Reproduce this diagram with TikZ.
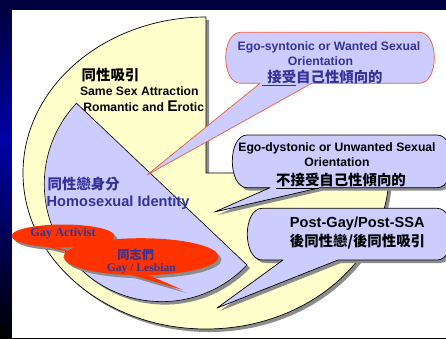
\documentclass[tikz,border=0pt]{standalone}
\usepackage{fontspec}
\setmainfont{Liberation Sans}
\newfontfamily\cjk{Noto Sans CJK TC}
\newfontfamily\tms{Liberation Serif}
\definecolor{lav}{HTML}{CCCCFF}
\definecolor{pieyel}{HTML}{FFFFCC}
\definecolor{dblue}{HTML}{333399}
\definecolor{redo}{HTML}{FF3300}
\definecolor{rline}{HTML}{F05A3C}
\definecolor{shad}{HTML}{8C8C8C}
\definecolor{bgA}{HTML}{00003C}
\definecolor{bgB}{HTML}{0000A8}
\newcommand\bubblepath[9]{(#1+#5,#2) -- (#3-#5,#2) .. controls (#3+#5/3,#2) and (#3+#5/3,#4) .. (#3-#5,#4) -- (#7,#4) -- (#8,#9) -- (#6,#4) -- (#1+#5,#4) .. controls (#1-#5/3,#4) and (#1-#5/3,#2) .. (#1+#5,#2) -- cycle}
\tikzset{
  en/.style={font=\fontsize{12.2}{14}\selectfont\bfseries},
  enbig/.style={font=\fontsize{14.6}{16}\selectfont\bfseries},
  cj/.style={font=\cjk\fontsize{14.4}{16}\selectfont\bfseries},
  cjs/.style={font=\cjk\fontsize{12.2}{14}\selectfont\bfseries},
  tm/.style={font=\tms\fontsize{12.3}{14}\selectfont\bfseries},
  tms/.style={font=\tms\fontsize{11.6}{13}\selectfont\bfseries},
  shadowfill/.style={fill=shad},
  bubble/.style={fill=lav, draw=black, line width=0.7pt, line join=round},
}
\begin{document}
\begin{tikzpicture}[x=1pt,y=-1pt,every node/.style={inner sep=0pt,outer sep=0pt}]
\clip (0,0) rectangle (446,338);
% background
\shade[top color=bgA, bottom color=bgB] (0,0) rectangle (446,140);
\shade[top color=bgB, bottom color=black] (0,140) rectangle (446,338);
\fill[white] (12,10) rectangle (446,338);
% pie
\begin{scope}[shift={(3,3)}]
\fill[shadowfill] (206,173) -- (389,173) arc[start angle=0,end angle=270,x radius=183,y radius=156] -- cycle;
\end{scope}
\filldraw[fill=pieyel, draw=black, line width=0.7pt] (206,173) -- (389,173) arc[start angle=0,end angle=270,x radius=183,y radius=156] -- cycle;
% lavender half disc
\begin{scope}[shift={(3,3)}]
\fill[shadowfill] (247,265) arc[start angle=43.5,end angle=223.5,radius=117.5] -- cycle;
\end{scope}
\filldraw[fill=lav, draw=black, line width=0.6pt] (247,265) arc[start angle=43.5,end angle=223.5,radius=117.5] -- cycle;
% pie texts
\node[cj, anchor=base west] (ssa1) at (81.7,80) {同性吸引};
\node[en, anchor=base west] (ssa2) at (80,95) {Same Sex Attraction};
\node[en, anchor=base west] (ssa3) at (83.3,111.7) {Romantic and {\fontsize{15.5}{16}\selectfont E}rotic};
\node[cj, text=dblue, anchor=base west] (hi1) at (47.7,189) {同性戀身分};
\node[enbig, text=dblue, anchor=base west] (hi2) at (46.7,206) {Homosexual Identity};
% ego-syntonic callout
\path[bubble, draw=rline] \bubblepath{225.7}{32.3}{434.3}{83.3}{15}{260}{311.7}{147}{175};
\node[en, text=dblue, anchor=base] (es1) at (329,50) {Ego-syntonic or Wanted Sexual};
\node[en, text=dblue, anchor=base] (es2) at (320.5,65) {Orientation};
\node[cj, text=dblue, anchor=base] (es3) at (322.5,82) {\underline{\kern5pt 接受}自己性傾向的};
% ego-dystonic callout
\begin{scope}[shift={(3,3)}]
\fill[shadowfill] \bubblepath{232.3}{135}{452}{187.7}{15}{270}{320}{214.5}{212};
\end{scope}
\path[bubble] \bubblepath{232.3}{135}{452}{187.7}{15}{270}{320}{214.5}{212};
\node[en, anchor=base] (ed1) at (337,151.7) {Ego-dystonic or Unwanted Sexual};
\node[en, anchor=base] (ed2) at (337,166) {Orientation};
\node[cj, anchor=base] (ed3) at (341,185) {\underline{不接受}自己性傾向的};
% post-gay callout
\begin{scope}[shift={(3,3)}]
\fill[shadowfill] \bubblepath{247.3}{208.3}{452}{260}{15}{283}{338}{217}{308};
\end{scope}
\path[bubble] \bubblepath{247.3}{208.3}{452}{260}{15}{283}{338}{217}{308};
\node[enbig, anchor=base] (pg1) at (357.3,227.3) {Post-Gay/Post-SSA};
\node[cj, anchor=base] (pg2) at (357.5,246) {後同性戀/後同性吸引};
% red ellipses
\begin{scope}[shift={(3,3)}]
\fill[shadowfill] (44,246) -- (92,258) -- (56,247) -- cycle;
\fill[shadowfill] (63,236) ellipse[x radius=51.5,y radius=11.5];
\end{scope}
\fill[redo] (44,246) -- (92,258) -- (56,247) -- cycle;
\fill[redo] (63,236) ellipse[x radius=51.5,y radius=11.5];
\node[tm, text=dblue, anchor=base] (ga) at (63,236.7) {Gay Activist};
\begin{scope}[shift={(3,3)}]
\fill[shadowfill] (128,274) -- (183,290) -- (146,274) -- cycle;
\fill[shadowfill] (141,256.7) ellipse[x radius=77.5,y radius=18.5];
\end{scope}
\fill[redo] (128,274) -- (183,290) -- (146,274) -- cycle;
\fill[redo] (141,256.7) ellipse[x radius=77.5,y radius=18.5];
\node[cjs, text=dblue, anchor=base] (gl1) at (135.7,259) {同志們};
\node[tms, text=dblue, anchor=base] (gl2) at (141.3,271.7) {Gay / Lesbian};
\end{tikzpicture}
\end{document}
